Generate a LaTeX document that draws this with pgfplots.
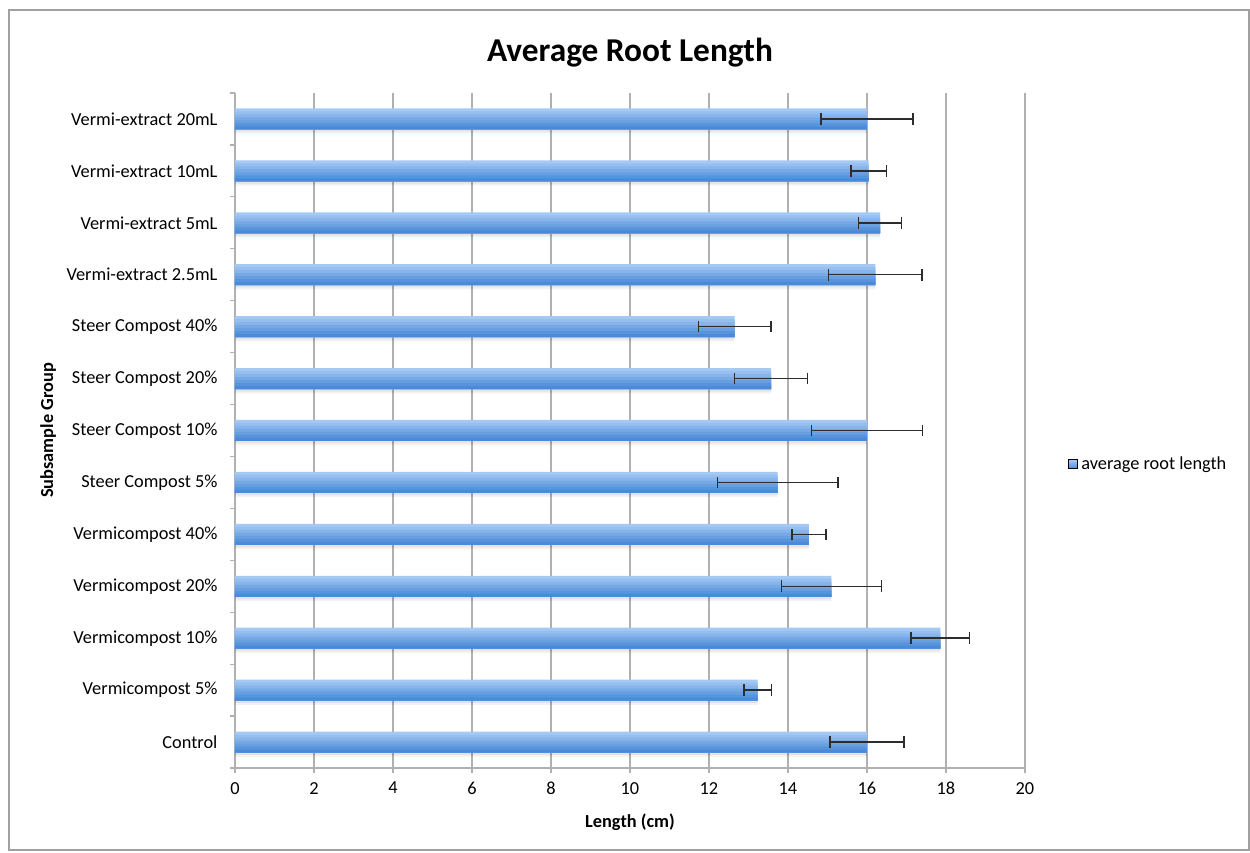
\documentclass[border=0pt]{standalone}
\usepackage{pgfplots}
\usepackage{pgfplotstable}
\pgfplotsset{compat=1.18}
\usepackage{fontspec}
\setmainfont{Carlito}
\definecolor{bA}{RGB}{165,201,245}
\definecolor{bB}{RGB}{150,191,240}
\definecolor{bC}{RGB}{134,180,235}
\definecolor{bD}{RGB}{118,169,229}
\definecolor{bE}{RGB}{103,159,224}
\definecolor{bF}{RGB}{88,148,219}
\definecolor{bG}{RGB}{74,138,214}
\definecolor{gridc}{RGB}{176,176,176}
\definecolor{framec}{RGB}{160,160,160}
\definecolor{errc}{RGB}{45,45,45}
\pgfplotstableread{
y val err
0 16.00 0.94
1 13.23 0.35
2 17.86 0.74
3 15.10 1.27
4 14.53 0.43
5 13.74 1.52
6 16.00 1.40
7 13.57 0.92
8 12.65 0.92
9 16.21 1.18
10 16.33 0.54
11 16.04 0.45
12 16.00 1.16
}\datatable
\begin{document}
\begin{tikzpicture}[x=0.6pt,y=0.6pt]
\useasboundingbox (0,0) rectangle (1250,853);
\draw[framec,line width=0.8pt] (9,3) rectangle (1249,843);
\begin{axis}[
  at={(235pt*0.6,85pt*0.6)}, anchor=south west,
  scale only axis, width=474pt, height=405pt,
  xmin=0, xmax=20, ymin=-0.5, ymax=12.5,
  xtick={0,2,...,20},
  ytick={0,...,12},
  yticklabels={Control,Vermicompost 5\%,Vermicompost 10\%,Vermicompost 20\%,Vermicompost 40\%,Steer Compost 5\%,Steer Compost 10\%,Steer Compost 20\%,Steer Compost 40\%,Vermi-extract 2.5mL,Vermi-extract 5mL,Vermi-extract 10mL,Vermi-extract 20mL},
  minor ytick={-0.5,0.5,...,12.5},
  major tick length=3pt, minor tick length=3pt,
  tick align=outside,
  every major y tick/.style={draw=none},
  every minor y tick/.style={draw=gridc, line width=0.7pt},
  every major x tick/.style={draw=gridc, line width=0.7pt},
  xmajorgrids, major grid style={gridc, line width=0.7pt},
  axis x line*=bottom, axis y line*=left,
  axis line style={gridc, line width=0.7pt, -},
  ticklabel style={font=\fontsize{11}{13}\selectfont, text=black},
  /pgf/number format/assume math mode=true,
  yticklabel style={xshift=-4pt},
  xticklabel style={yshift=-2pt},
  title={Average Root Length},
  title style={at={(0.5,1.0445)}, anchor=center, yshift=0pt, font=\fontsize{20}{24}\selectfont\bfseries},
  xlabel={Length (cm)},
  xlabel style={at={(0.5,-0.08)}, anchor=center, font=\fontsize{11}{13}\selectfont\bfseries},
  ylabel={Subsample Group},
  ylabel style={at={(-0.2367,0.5)}, anchor=center, rotate=0, font=\fontsize{11}{13}\selectfont\bfseries},
  legend style={draw=none, fill=none, at={(1.0544,0.45)}, anchor=west, font=\fontsize{11}{13}\selectfont, inner sep=0pt},
  legend cell align=left,
  clip=false,
]
\addplot[forget plot, xbar, bar width=1.3pt, bar shift=-7.0pt, draw=none, fill=black, fill opacity=0.10] table[x=val, y=y] {\datatable};
\addplot[forget plot, xbar, bar width=1.3pt, bar shift=-8.2pt, draw=none, fill=black, fill opacity=0.05] table[x=val, y=y] {\datatable};
\addplot[forget plot, xbar, bar width=12.6pt, bar shift=0pt, draw=none, fill=bA] table[x=val, y=y] {\datatable};
\addplot[forget plot, xbar, bar width=10.8pt, bar shift=-0.9pt, draw=none, fill=bB] table[x=val, y=y] {\datatable};
\addplot[forget plot, xbar, bar width=9.0pt, bar shift=-1.8pt, draw=none, fill=bC] table[x=val, y=y] {\datatable};
\addplot[forget plot, xbar, bar width=7.2pt, bar shift=-2.7pt, draw=none, fill=bD] table[x=val, y=y] {\datatable};
\addplot[forget plot, xbar, bar width=5.4pt, bar shift=-3.6pt, draw=none, fill=bE] table[x=val, y=y] {\datatable};
\addplot[forget plot, xbar, bar width=3.6pt, bar shift=-4.5pt, draw=none, fill=bF] table[x=val, y=y] {\datatable};
\addplot[forget plot, xbar, bar width=1.8pt, bar shift=-5.4pt, draw=none, fill=bG] table[x=val, y=y] {\datatable};
\addplot[forget plot, xbar, bar width=0.1pt, bar shift=0pt, draw=none, fill=none,
  error bars/.cd, x dir=both, x explicit, error mark=|,
  error mark options={errc, mark size=3.5pt, line width=0.9pt},
  error bar style={errc, line width=0.9pt}]
  table[x=val, y=y, x error=err] {\datatable};
\addlegendimage{legend image code/.code={\fill[top color=bA, bottom color=bG] (0pt,-2.7pt) rectangle (5.4pt,2.7pt);}}
\addlegendentry{average root length}
\end{axis}
\end{tikzpicture}
\end{document}
